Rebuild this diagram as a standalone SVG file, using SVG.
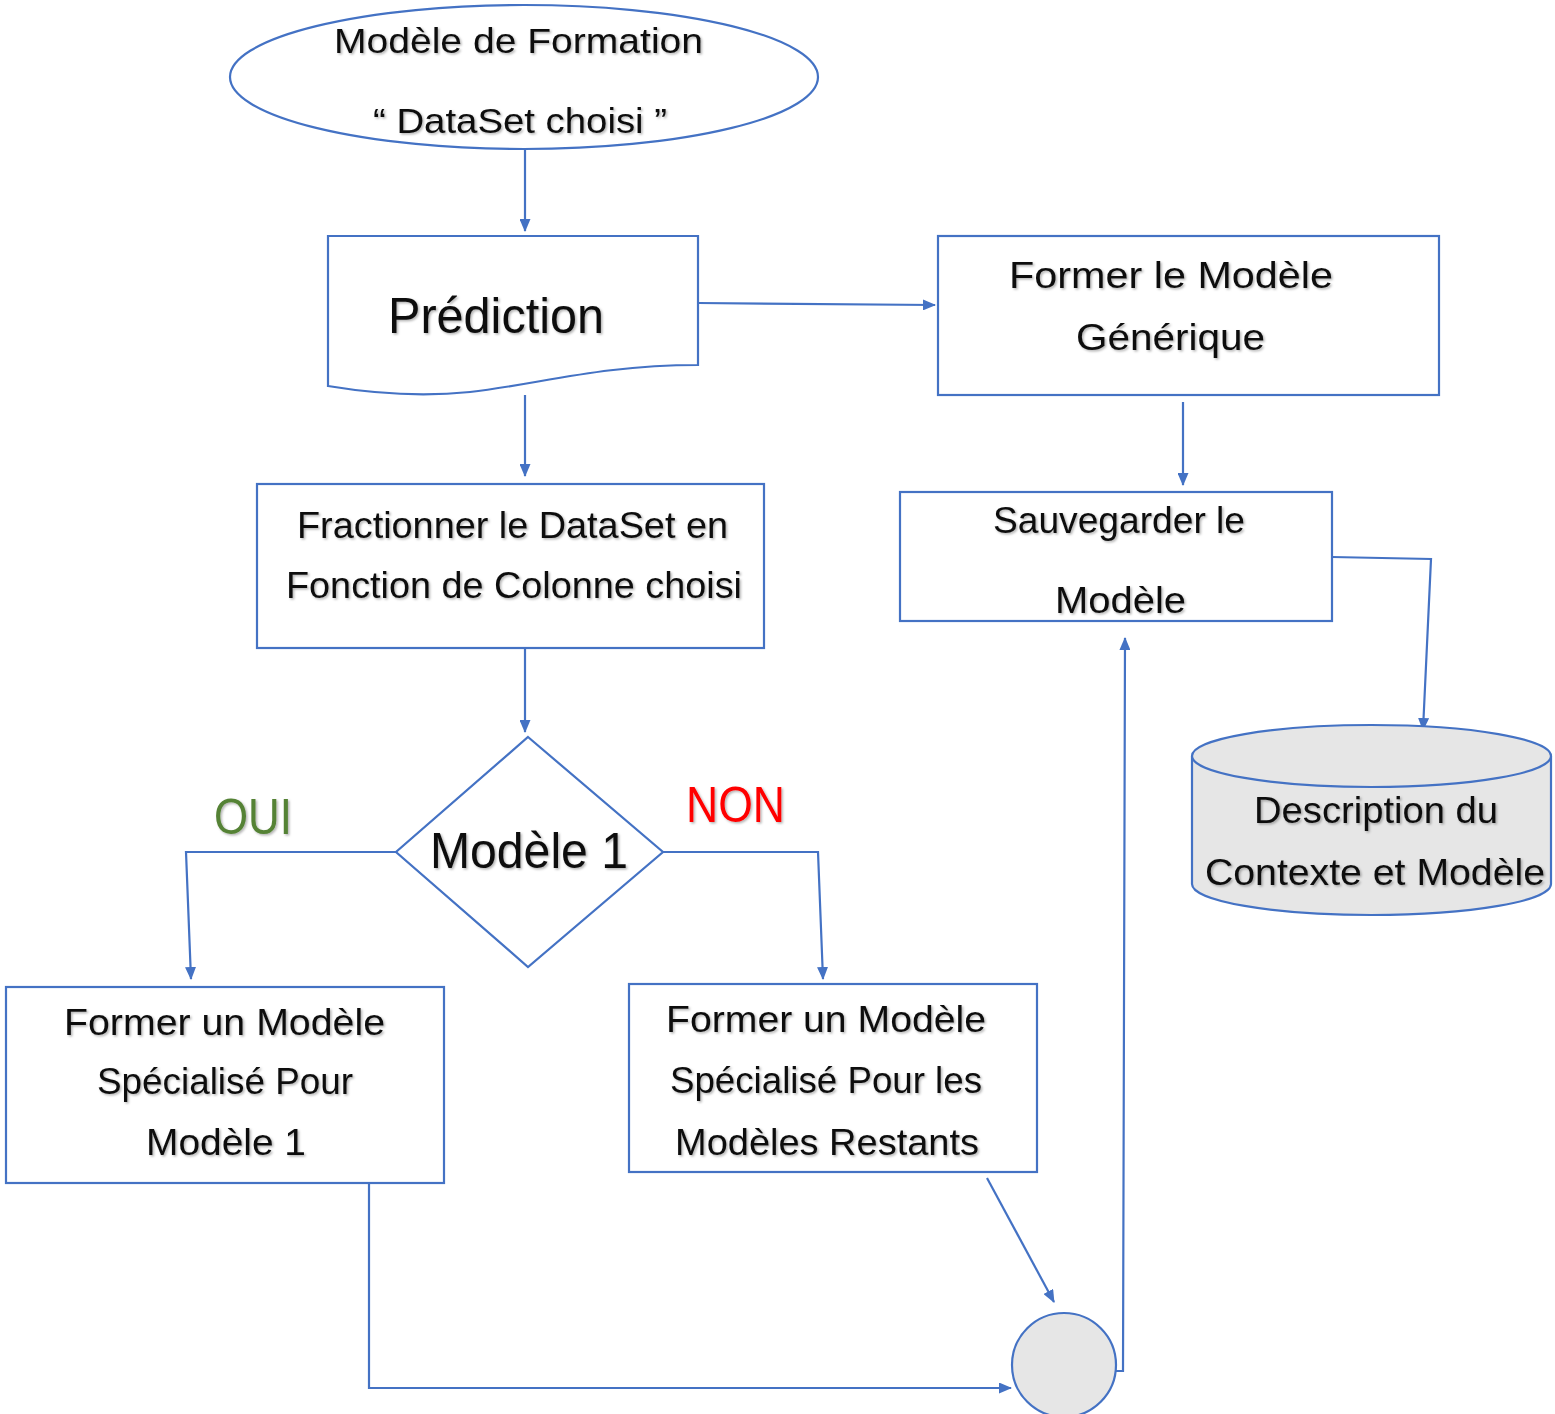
<svg xmlns="http://www.w3.org/2000/svg" width="1555" height="1414" viewBox="0 0 1555 1414">
<style>
.s{fill:#ffffff;stroke:#4472C4;stroke-width:2.2}
.g{fill:#e6e6e6;stroke:#4472C4;stroke-width:2.2}
.c{fill:none;stroke:#4472C4;stroke-width:2.2}
.t{font-family:"Liberation Sans",Arial,sans-serif;font-size:37px;fill:#111111;filter:url(#sh)}
.e{font-size:35px}
.big{font-size:50px}
</style>
<defs>
<filter id="sh" x="-5%" y="-20%" width="110%" height="140%">
<feDropShadow dx="1.5" dy="1.5" stdDeviation="1" flood-color="#000" flood-opacity="0.3"/>
</filter>
<marker id="a" markerUnits="userSpaceOnUse" markerWidth="13" markerHeight="11" refX="12" refY="5.5" orient="auto">
<path d="M0,0 L13,5.5 L0,11 Z" fill="#4472C4"/>
</marker>
</defs>

<g id="connectors">
<line class="c" x1="525" y1="149" x2="525" y2="231" marker-end="url(#a)"/>
<line class="c" x1="698" y1="303" x2="935" y2="305" marker-end="url(#a)"/>
<line class="c" x1="525" y1="395" x2="525" y2="476" marker-end="url(#a)"/>
<line class="c" x1="1183" y1="402" x2="1183" y2="485" marker-end="url(#a)"/>
<line class="c" x1="525" y1="648" x2="525" y2="732" marker-end="url(#a)"/>
<polyline class="c" points="396,852 186,852 191,979" marker-end="url(#a)"/>
<polyline class="c" points="663,852 818,852 823,979" marker-end="url(#a)"/>
<polyline class="c" points="1332,557 1431,559 1423,730" marker-end="url(#a)"/>
<line class="c" x1="987" y1="1178" x2="1054" y2="1302" marker-end="url(#a)"/>
<polyline class="c" points="369,1183 369,1388 1011,1388" marker-end="url(#a)"/>
<polyline class="c" points="1115,1371 1123,1371 1125,638" marker-end="url(#a)"/>
</g>

<g id="start">
<ellipse class="s" cx="524" cy="77" rx="294" ry="72"/>
<text class="t e" x="334" y="53" textLength="369" lengthAdjust="spacingAndGlyphs">Modèle de Formation</text>
<text class="t e" x="373" y="133" textLength="294" lengthAdjust="spacingAndGlyphs">“ DataSet choisi ”</text>
</g>

<g id="prediction">
<path class="s" d="M328,236 H698 V365 C600,365 540,384 470,392 C420,397 370,393 328,386 Z"/>
<text class="t big" x="388" y="333" textLength="216" lengthAdjust="spacingAndGlyphs">Prédiction</text>
</g>

<g id="generique">
<rect class="s" x="938" y="236" width="501" height="159"/>
<text class="t" x="1009" y="288" textLength="324" lengthAdjust="spacingAndGlyphs">Former le Modèle</text>
<text class="t" x="1076" y="350" textLength="189" lengthAdjust="spacingAndGlyphs">Générique</text>
</g>

<g id="fractionner">
<rect class="s" x="257" y="484" width="507" height="164"/>
<text class="t" x="297" y="538" textLength="431" lengthAdjust="spacingAndGlyphs">Fractionner le DataSet en</text>
<text class="t" x="286" y="598" textLength="456" lengthAdjust="spacingAndGlyphs">Fonction de Colonne choisi</text>
</g>

<g id="sauvegarder">
<rect class="s" x="900" y="492" width="432" height="129"/>
<text class="t" x="993" y="533" textLength="252" lengthAdjust="spacingAndGlyphs">Sauvegarder le</text>
<text class="t" x="1055" y="613" textLength="131" lengthAdjust="spacingAndGlyphs">Modèle</text>
</g>

<g id="database">
<path class="g" d="M1192,756 V884 A179.5,31 0 0 0 1551,884 V756"/>
<ellipse class="g" cx="1371.5" cy="756" rx="179.5" ry="31"/>
<text class="t" x="1254" y="823" textLength="244" lengthAdjust="spacingAndGlyphs">Description du</text>
<text class="t" x="1205" y="885" textLength="340" lengthAdjust="spacingAndGlyphs">Contexte et Modèle</text>
</g>

<g id="decision">
<polygon class="s" points="528,737 663,852 528,967 396,852"/>
<text class="t big" x="430" y="868" textLength="198" lengthAdjust="spacingAndGlyphs">Modèle 1</text>
</g>

<g id="label-oui">
<text class="t big" x="214" y="834" style="fill:#548235" textLength="78" lengthAdjust="spacingAndGlyphs">OUI</text>
</g>
<g id="label-non">
<text class="t big" x="686" y="822" style="fill:#ff0000" textLength="99" lengthAdjust="spacingAndGlyphs">NON</text>
</g>

<g id="specialise1">
<rect class="s" x="6" y="987" width="438" height="196"/>
<text class="t" x="64" y="1035" textLength="321" lengthAdjust="spacingAndGlyphs">Former un Modèle</text>
<text class="t" x="97" y="1094" textLength="256" lengthAdjust="spacingAndGlyphs">Spécialisé Pour</text>
<text class="t" x="146" y="1155" textLength="160" lengthAdjust="spacingAndGlyphs">Modèle 1</text>
</g>

<g id="specialise-restants">
<rect class="s" x="629" y="984" width="408" height="188"/>
<text class="t" x="666" y="1032" textLength="320" lengthAdjust="spacingAndGlyphs">Former un Modèle</text>
<text class="t" x="670" y="1093" textLength="312" lengthAdjust="spacingAndGlyphs">Spécialisé Pour les</text>
<text class="t" x="675" y="1155" textLength="304" lengthAdjust="spacingAndGlyphs">Modèles Restants</text>
</g>

<g id="jonction">
<circle class="g" cx="1064" cy="1365" r="52"/>
</g>
</svg>
